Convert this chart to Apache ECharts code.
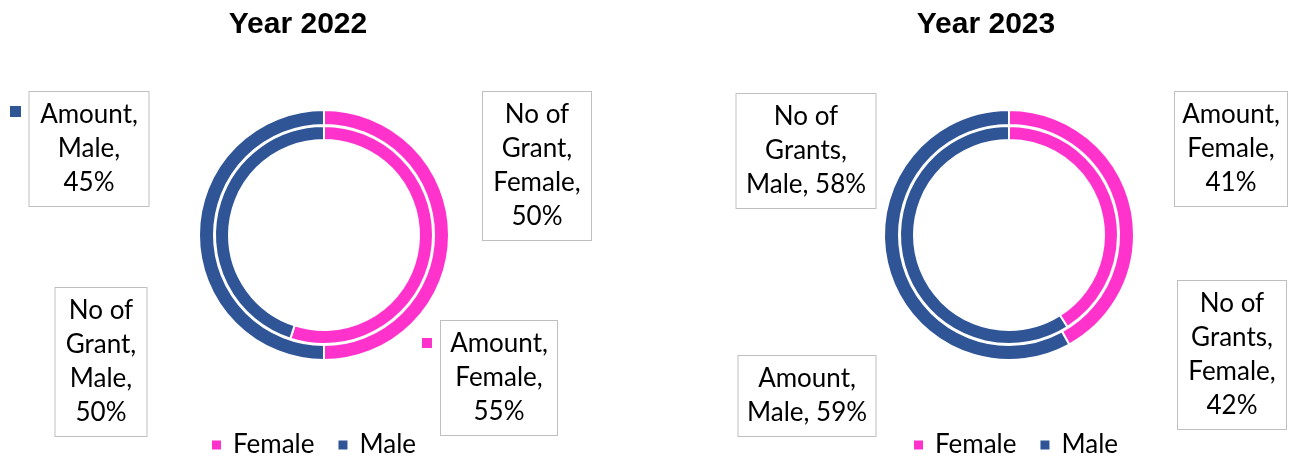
<!DOCTYPE html>
<html>
<head>
<meta charset="utf-8">
<script src="https://cdn.jsdelivr.net/npm/echarts@6/dist/echarts.min.js"></script>
<style>html,body{margin:0;padding:0;background:#fff}#c{width:1295px;height:460px}</style>
</head>
<body>
<div id="c"></div>
<script>
// ---- data ----
const categories = ['Female', 'Male'];
const years = ['Year 2022', 'Year 2023'];
const outerNames = ['No of Grant', 'No of Grants'];
const innerNames = ['Amount', 'Amount'];
const grants2022 = [50, 50];
const amount2022 = [55, 45];
const grants2023 = [42, 58];
const amount2023 = [41, 59];

// ---- style / layout ----
const colors = ['#FF33CC', '#2F5597'];
const FONT = 'Lato';
const centers = [[324, 235], [1009, 235]];
// per label: [centerX, centerY, boxWidth, words per line]
const labelLayouts = {
  '0-0': [[537, 166, 110, [2, 1, 1, 1]], [101, 362, 93, [2, 1, 1, 1]]],
  '0-1': [[499, 378, 118, [1, 1, 1]], [89, 149, 121, [1, 1, 1]]],
  '1-0': [[1232, 355, 110, [2, 1, 1, 1]], [806, 151, 141, [2, 1, 2]]],
  '1-1': [[1231, 149, 114, [1, 1, 1]], [807, 396, 139, [1, 2]]]
};

function wrap(text, spec) {
  const w = text.split(' ');
  const lines = [];
  let i = 0;
  spec.forEach(n => { lines.push(w.slice(i, i + n).join(' ')); i += n; });
  return lines.join('\n');
}

function makeSeries(chartIdx, ringIdx, name, values, radius) {
  const lay = labelLayouts[chartIdx + '-' + ringIdx];
  return {
    type: 'pie',
    name: name,
    center: centers[chartIdx],
    radius: radius,
    startAngle: 90,
    clockwise: true,
    silent: true,
    avoidLabelOverlap: false,
    itemStyle: { borderColor: '#fff', borderWidth: 2 },
    labelLine: { show: false },
    data: categories.map((c, i) => ({
      name: c,
      value: values[i],
      itemStyle: { color: colors[i] },
      label: {
        show: true,
        formatter: wrap(name + ', ' + c + ', ' + values[i] + '%', lay[i][3]),
        width: lay[i][2] - 2,
        fontFamily: FONT,
        fontSize: 26,
        lineHeight: 34,
        color: '#000',
        backgroundColor: '#fff',
        borderColor: '#BFBFBF',
        borderWidth: 1,
        padding: [6, 0, 6, 0],
        align: 'center'
      }
    })),
    labelLayout: function (p) {
      const l = lay[p.dataIndex];
      return { x: l[0], y: l[1], align: 'center', verticalAlign: 'middle', hideOverlap: false };
    }
  };
}

const chart = echarts.init(document.getElementById('c'), null, { renderer: 'canvas' });
const titlesX = [298, 986];
const legendX = [210, 912];
chart.setOption({
  animation: false,
  backgroundColor: '#fff',
  title: years.map((t, i) => ({
    text: t, left: titlesX[i], top: 10, textAlign: 'center', padding: 0,
    textStyle: { fontFamily: 'Liberation Sans', fontWeight: 'bold', fontSize: 30, color: '#000' }
  })),
  legend: legendX.map(x => ({
    data: categories, left: x, top: 432, padding: 0, icon: 'rect',
    itemWidth: 11, itemHeight: 11, itemGap: 22, selectedMode: false,
    textStyle: { fontFamily: FONT, fontSize: 26, color: '#000', padding: [0, 0, 0, 6] }
  })),
  series: [
    makeSeries(0, 0, outerNames[0], grants2022, [110, 125]),
    makeSeries(0, 1, innerNames[0], amount2022, [95, 109]),
    makeSeries(1, 0, outerNames[1], grants2023, [110, 125]),
    makeSeries(1, 1, innerNames[1], amount2023, [95, 109])
  ],
  graphic: [
    { type: 'rect', shape: { x: 422, y: 338, width: 10, height: 10 }, style: { fill: colors[0] } },
    { type: 'rect', shape: { x: 10, y: 106, width: 11, height: 11 }, style: { fill: colors[1] } }
  ]
});
</script>
</body>
</html>
